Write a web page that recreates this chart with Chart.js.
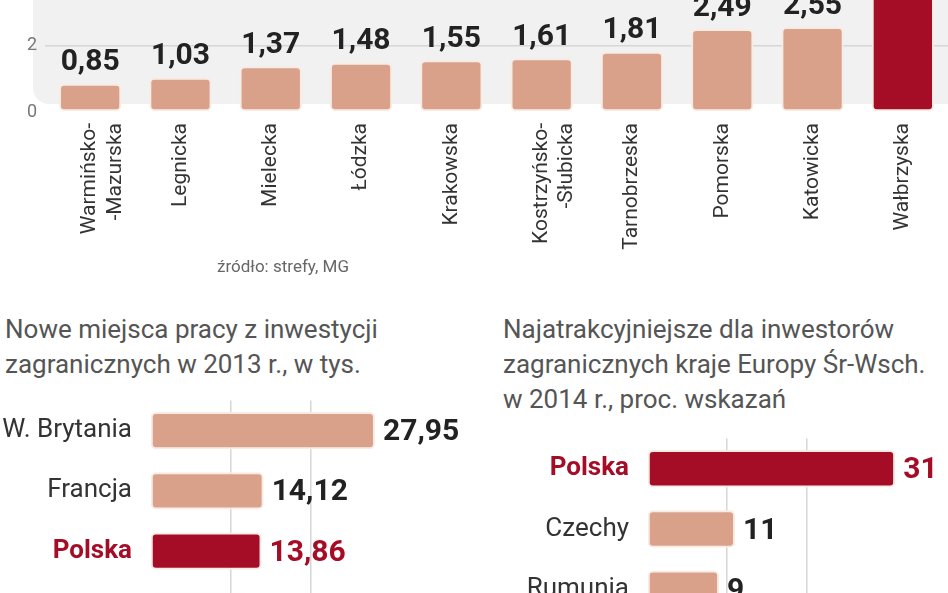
<!DOCTYPE html>
<html><head><meta charset="utf-8">
<script src="https://cdn.jsdelivr.net/npm/chart.js@4"></script>
<style>
body{margin:0;width:948px;height:593px;overflow:hidden;background:#fff;position:relative;font-family:Roboto,"Open Sans",sans-serif;}
.c{position:absolute;}
.t{position:absolute;color:#555;font-family:"Liberation Sans Narrow",Roboto,sans-serif;font-size:26px;line-height:35px;}
.src{position:absolute;left:183px;top:256px;width:200px;text-align:center;color:#666;font-family:"Liberation Sans Narrow",Roboto,sans-serif;font-size:17px;}
</style></head><body>
<div class="c" style="left:0;top:-200px;width:948px;height:480px"><canvas id="c1"></canvas></div>
<div class="src">źródło: strefy, MG</div>
<div class="t" style="left:5px;top:312px">Nowe miejsca pracy z inwestycji<br>zagranicznych w 2013 r., w tys.</div>
<div class="t" style="left:503px;top:312px">Najatrakcyjniejsze dla inwestorów<br>zagranicznych kraje Europy Śr-Wsch.<br>w 2014 r., proc. wskazań</div>
<div class="c" style="left:0;top:375px;width:480px;height:292px"><canvas id="c2"></canvas></div>
<div class="c" style="left:480px;top:413px;width:468px;height:232px"><canvas id="c3"></canvas></div>
<script>
const zones=[["Warmińsko-","-Mazurska"],"Legnicka","Mielecka","Łódzka","Krakowska",["Kostrzyńsko-","-Słubicka"],"Tarnobrzeska","Pomorska","Katowicka","Wałbrzyska"];
const zoneValues=[0.85,1.03,1.37,1.48,1.55,1.61,1.81,2.49,2.55,4.2];
const zoneHighlight="Wałbrzyska";
const jobsCountries=["W. Brytania","Francja","Polska","Niemcy"];
const jobsValues=[27.95,14.12,13.86,12.5];
const attrCountries=["Polska","Czechy","Rumunia"];
const attrValues=[31,11,9];
const yTicksTop=[0,2,4,6,8];

const SAL='#d9a08a',RED='#a50d27',NUM='"Liberation Sans Narrow",Roboto,sans-serif';
const fmt=v=>v.toLocaleString('pl-PL',{minimumFractionDigits:Number.isInteger(v)?0:2});
const valLabels={id:'vl',afterDatasetsDraw(ch,a,o){
  const ctx=ch.ctx,ds=ch.data.datasets[0],meta=ch.getDatasetMeta(0),hz=ch.options.indexAxis==='y';
  ctx.save();ctx.font='bold 30px '+NUM;
  meta.data.forEach((b,i)=>{const lab=ch.data.labels[i];const red=lab==='Polska'&&hz;
    ctx.fillStyle=red?RED:'#222';
    if(hz){ctx.textAlign='left';ctx.textBaseline='middle';ctx.fillText(fmt(ds.data[i]),b.x+8,b.y+2);}
    else{ctx.textAlign='center';ctx.textBaseline='bottom';ctx.fillText(fmt(ds.data[i]),b.x,b.y-6);}
  });ctx.restore();}};
const panel={id:'pn',beforeDraw(ch){const ctx=ch.ctx,a=ch.chartArea;ctx.save();ctx.fillStyle='#f1f1f1';
  ctx.beginPath();ctx.roundRect(a.left-12,a.top-20,a.right-a.left+40,a.bottom-a.top+12,16);ctx.fill();ctx.restore();}};
const bcol=(labs,hl)=>labs.map(l=>(l===hl)?RED:SAL);

new Chart(c1,{type:'bar',data:{labels:zones,datasets:[{data:zoneValues,backgroundColor:zones.map(z=>z===zoneHighlight?RED:SAL),
  borderColor:'#f7ebe4',borderWidth:2,borderRadius:5,borderSkipped:false,barPercentage:0.69,categoryPercentage:1}]},
 options:{responsive:true,maintainAspectRatio:false,animation:false,layout:{padding:0},plugins:{legend:{display:false},tooltip:{enabled:false}},
  scales:{x:{grid:{display:false},border:{display:false},afterFit:s=>{s.height=168},
     ticks:{minRotation:90,maxRotation:90,autoSkip:false,color:'#333',font:{family:'Roboto',size:21}}},
   y:{min:0,max:8.8,afterFit:s=>{s.width=45},border:{display:false},
     afterBuildTicks:s=>{s.ticks=yTicksTop.map(v=>({value:v}))},
     grid:{color:c=>c.tick&&c.tick.value===0?'rgba(0,0,0,0)':'#d6d6d6',lineWidth:1.5,drawTicks:false},
     ticks:{color:'#777',padding:8,font:{family:'Roboto',size:18}}}}},
 plugins:[panel,valLabels]});

function hbar(el,labels,vals,max){
 new Chart(el,{type:'bar',data:{labels,datasets:[{data:vals,backgroundColor:bcol(labels,'Polska'),
  borderColor:'#f7ebe4',borderWidth:2,borderRadius:5,borderSkipped:false,barPercentage:0.62,categoryPercentage:1}]},
 options:{indexAxis:'y',responsive:true,maintainAspectRatio:false,animation:false,layout:{padding:0},
  plugins:{legend:{display:false},tooltip:{enabled:false}},
  scales:{x:{min:0,max,afterFit:s=>{s.height=0},border:{display:false},ticks:{display:false,stepSize:10},
     grid:{color:c=>(c.tick&&(c.tick.value===10||c.tick.value===20))?'#d6d6d6':'rgba(0,0,0,0)',lineWidth:1.5,drawTicks:false}},
   y:{afterFit:s=>{s.width=el.id==='c2'?150:167},grid:{display:false},border:{display:false},
     ticks:{padding:10,color:c=>labels[c.index]==='Polska'?RED:'#333',
       font:c=>labels[c.index]==='Polska'?{family:NUM,size:26,weight:'bold'}:{family:NUM,size:26}}}}},
 plugins:[valLabels]});}
hbar(c2,jobsCountries,jobsValues,41);
hbar(c3,attrCountries,attrValues,37.6);
</script></body></html>
